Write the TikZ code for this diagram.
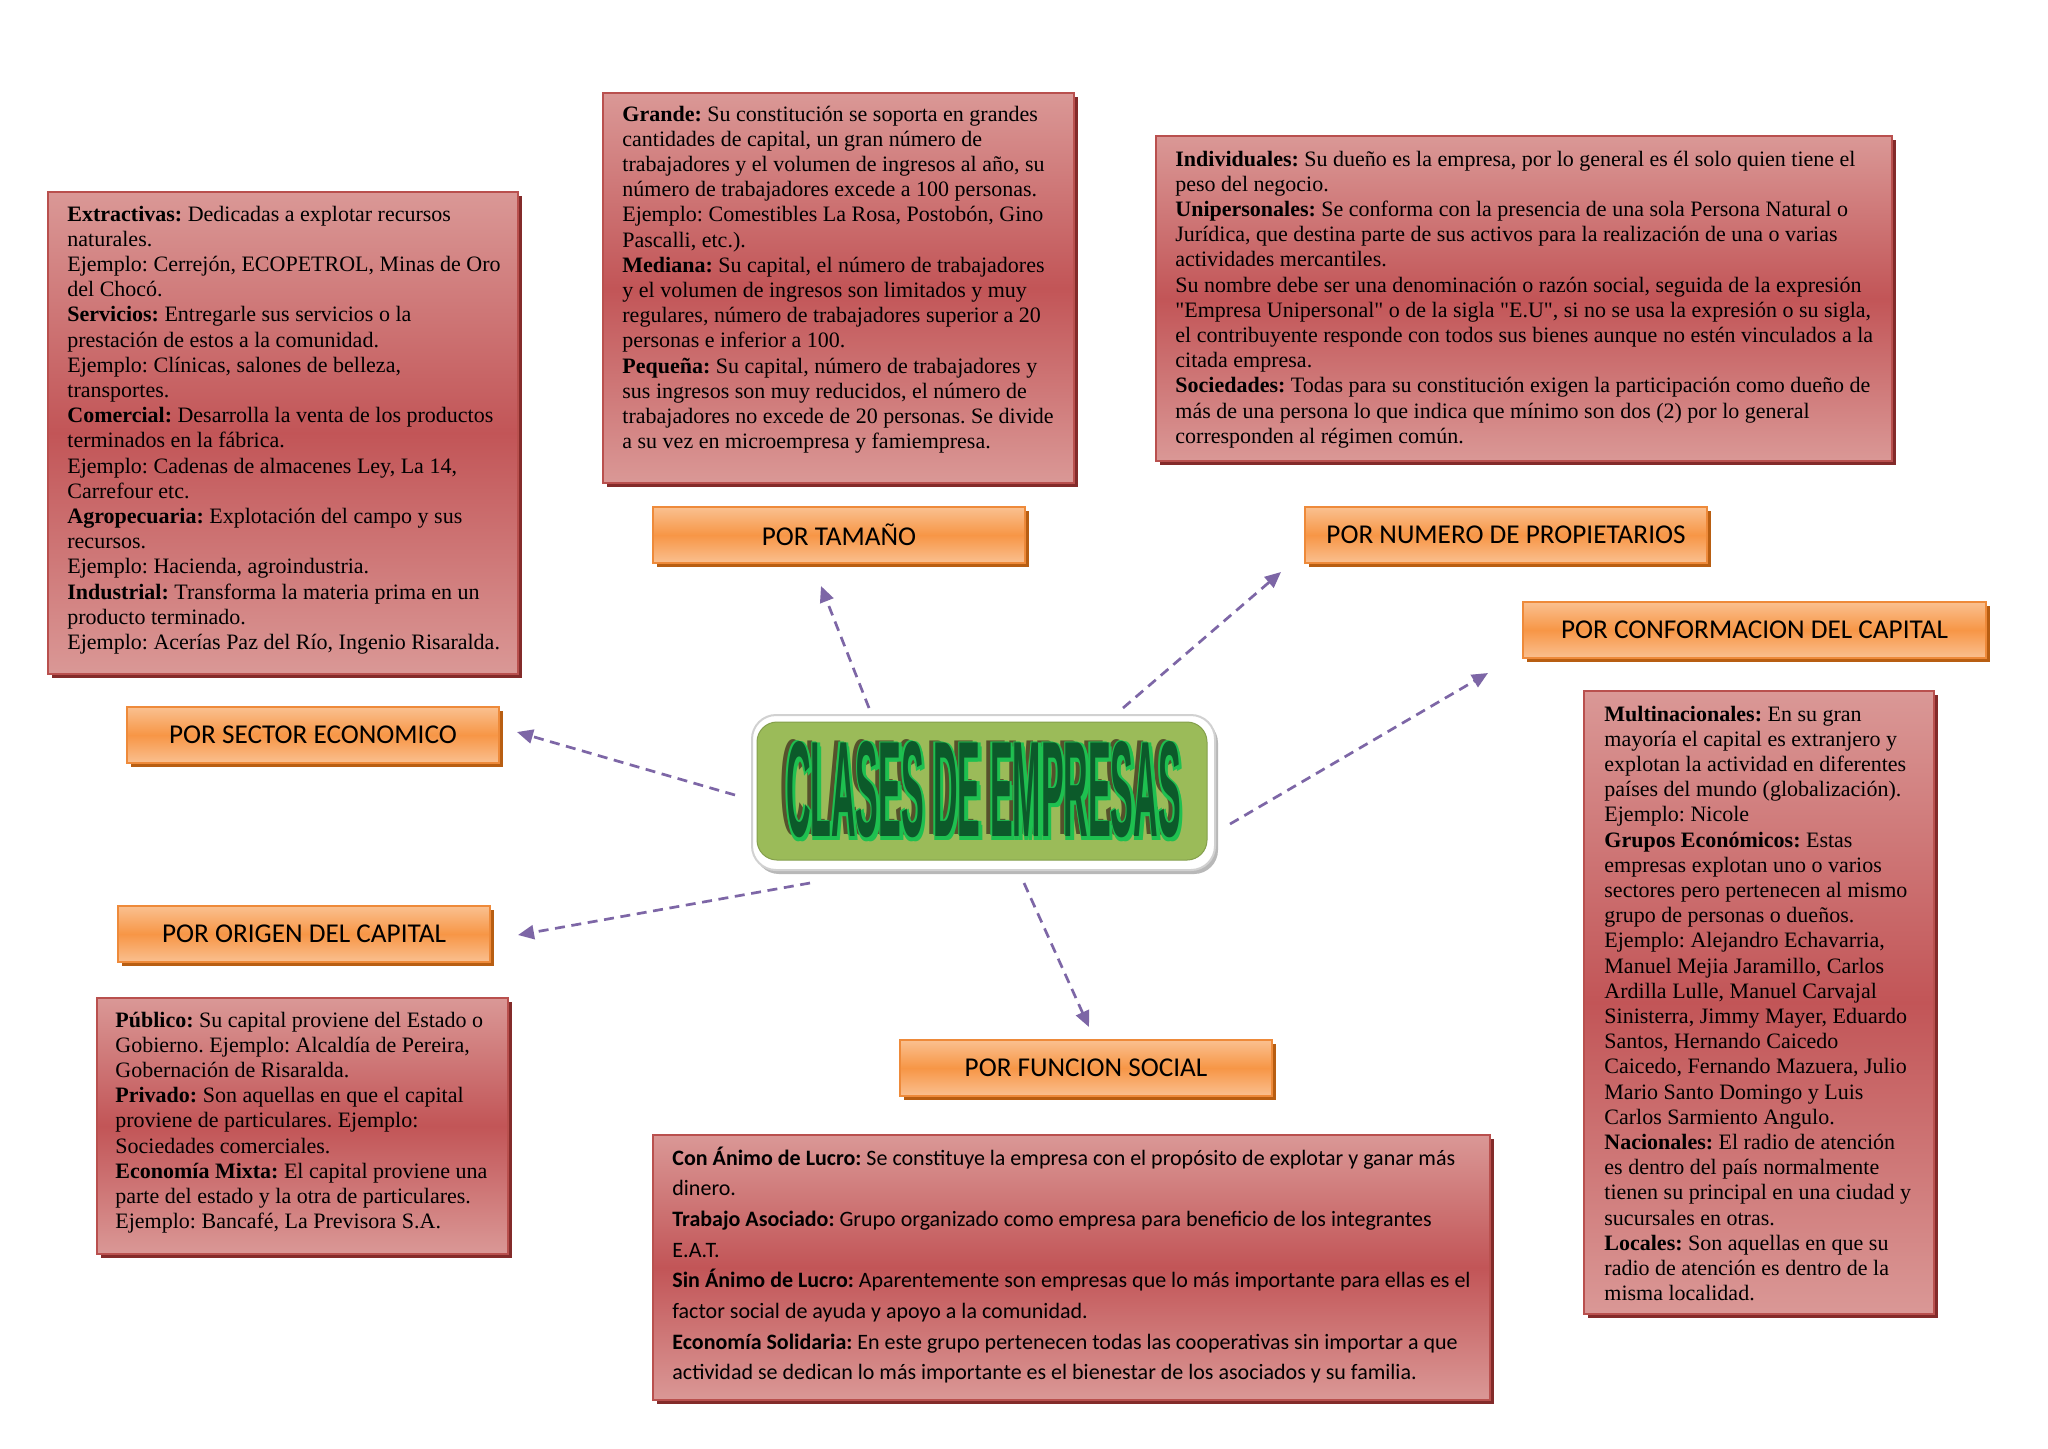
\documentclass[tikz,border=0pt]{standalone}
\usepackage{fontspec}
\setmainfont{Liberation Serif}[BoldFont={Liberation Serif Bold}, Ligatures=TeXOff]
\newfontfamily\calfont{Carlito}
\newfontfamily\wafont{Liberation Sans}
\usetikzlibrary{arrows.meta,shadows}
\definecolor{redlight}{HTML}{DA9896}
\definecolor{redmid}{HTML}{C25557}
\definecolor{redborder}{HTML}{B9504E}
\definecolor{redshadow}{HTML}{832B2A}
\definecolor{orlight}{HTML}{FAC090}
\definecolor{ormid}{HTML}{F79646}
\definecolor{orborder}{HTML}{EE8A3A}
\definecolor{orshadow}{HTML}{B85E12}
\definecolor{arrowc}{HTML}{7D66A6}
\definecolor{greenbox}{HTML}{9BBB59}
\definecolor{wagreen}{HTML}{0C5A2A}
\definecolor{wabright}{HTML}{1EC050}
\definecolor{waolive}{HTML}{56512C}
\frenchspacing
\newcommand\blk[2]{\vtop{\frenchspacing\baselineskip=#1\relax\lineskiplimit=-20pt\lineskip=0pt\halign{##\hfil\cr#2\crcr}}}
\newcommand\watitle{\scalebox{1}[4]{CLASES DE EMPRESAS}}
\newcommand\walayer[3]{\rlap{\kern#1\raisebox{#2}{\color{#3}\watitle}}}
\newcommand\wastack{\leavevmode
  \walayer{-2.75pt}{1.25pt}{waolive}%
  \walayer{1.75pt}{-1.75pt}{wabright}%
  \walayer{1.25pt}{0.25pt}{wabright}%
  \walayer{-0.25pt}{-1.75pt}{wabright}%
  \walayer{-0.75pt}{0.75pt}{wabright}%
  {\color{wagreen}\watitle}}
\tikzset{
  redbox/.style={draw=redborder, line width=0.6pt, top color=redlight, bottom color=redlight, middle color=redmid, inner sep=0pt,
    general shadow={fill=redshadow, shadow xshift=2.2pt, shadow yshift=-2.2pt}},
  orbox/.style={draw=orborder, line width=0.6pt, top color=orlight, bottom color=orlight, middle color=ormid, inner sep=0pt,
    minimum width=186pt, minimum height=28pt, font=\calfont\fontsize{13.6}{16}\selectfont,
    general shadow={fill=orshadow, shadow xshift=2.2pt, shadow yshift=-2.2pt}},
  tnode/.style={anchor=base west, inner sep=0pt, font=\fontsize{11}{12.6}\selectfont},
  conn/.style={draw=arrowc, line width=1.35pt, dash pattern=on 5pt off 3.3pt, -{Triangle[length=8pt,width=7pt]}},
  watext/.style={inner sep=0pt, font=\wafont\bfseries\fontsize{17}{17}\selectfont}
}
\begin{document}
\begin{tikzpicture}[x=0.5pt,y=-0.5pt]
\useasboundingbox[fill=white] (0,0) rectangle (2048,1448);

% ---------- red boxes ----------
\node[redbox, minimum width=235pt, minimum height=241pt] (bsec) at (283,433) {};
\node[redbox, minimum width=235.5pt, minimum height=195pt] (btam) at (838.5,288) {};
\node[redbox, minimum width=368pt, minimum height=162.5pt] (bprop) at (1524,298.5) {};
\node[redbox, minimum width=175pt, minimum height=311.5pt] (bconf) at (1759,1002.5) {};
\node[redbox, minimum width=205.5pt, minimum height=128pt] (borig) at (302.5,1126) {};
\node[redbox, minimum width=418.5pt, minimum height=132.5pt] (bfunc) at (1071.5,1267.5) {};

% ---------- texts ----------
\node[tnode] (tsec) at (67,221) {\blk{12.6pt}{%
\textbf{Extractivas:} Dedicadas a explotar recursos\cr
naturales.\cr
Ejemplo: Cerrejón, ECOPETROL, Minas de Oro\cr
del Chocó.\cr
\textbf{Servicios:} Entregarle sus servicios o la\cr
prestación de estos a la comunidad.\cr
Ejemplo: Clínicas, salones de belleza,\cr
transportes.\cr
\textbf{Comercial:} Desarrolla la venta de los productos\cr
terminados en la fábrica.\cr
Ejemplo: Cadenas de almacenes Ley, La 14,\cr
Carrefour etc.\cr
\textbf{Agropecuaria:} Explotación del campo y sus\cr
recursos.\cr
Ejemplo: Hacienda, agroindustria.\cr
\textbf{Industrial:} Transforma la materia prima en un\cr
producto terminado.\cr
Ejemplo: Acerías Paz del Río, Ingenio Risaralda.}};

\node[tnode] (ttam) at (622,121) {\blk{12.6pt}{%
\textbf{Grande:} Su constitución se soporta en grandes\cr
cantidades de capital, un gran número de\cr
trabajadores y el volumen de ingresos al año, su\cr
número de trabajadores excede a 100 personas.\cr
Ejemplo: Comestibles La Rosa, Postobón, Gino\cr
Pascalli, etc.).\cr
\textbf{Mediana:} Su capital, el número de trabajadores\cr
y el volumen de ingresos son limitados y muy\cr
regulares, número de trabajadores superior a 20\cr
personas e inferior a 100.\cr
\textbf{Pequeña:} Su capital, número de trabajadores y\cr
sus ingresos son muy reducidos, el número de\cr
trabajadores no excede de 20 personas. Se divide\cr
a su vez en microempresa y famiempresa.}};

\node[tnode] (tprop) at (1175,166) {\blk{12.6pt}{%
\textbf{Individuales:} Su dueño es la empresa, por lo general es él solo quien tiene el\cr
peso del negocio.\cr
\textbf{Unipersonales:} Se conforma con la presencia de una sola Persona Natural o\cr
Jurídica, que destina parte de sus activos para la realización de una o varias\cr
actividades mercantiles.\cr
Su nombre debe ser una denominación o razón social, seguida de la expresión\cr
"Empresa Unipersonal" o de la sigla "E.U", si no se usa la expresión o su sigla,\cr
el contribuyente responde con todos sus bienes aunque no estén vinculados a la\cr
citada empresa.\cr
\textbf{Sociedades:} Todas para su constitución exigen la participación como dueño de\cr
más de una persona lo que indica que mínimo son dos (2) por lo general\cr
corresponden al régimen común.}};

\node[tnode] (tconf) at (1604,721) {\blk{12.6pt}{%
\textbf{Multinacionales:} En su gran\cr
mayoría el capital es extranjero y\cr
explotan la actividad en diferentes\cr
países del mundo (globalización).\cr
Ejemplo: Nicole\cr
\textbf{Grupos Económicos:} Estas\cr
empresas explotan uno o varios\cr
sectores pero pertenecen al mismo\cr
grupo de personas o dueños.\cr
Ejemplo: Alejandro Echavarria,\cr
Manuel Mejia Jaramillo, Carlos\cr
Ardilla Lulle, Manuel Carvajal\cr
Sinisterra, Jimmy Mayer, Eduardo\cr
Santos, Hernando Caicedo\cr
Caicedo, Fernando Mazuera, Julio\cr
Mario Santo Domingo y Luis\cr
Carlos Sarmiento Angulo.\cr
\textbf{Nacionales:} El radio de atención\cr
es dentro del país normalmente\cr
tienen su principal en una ciudad y\cr
sucursales en otras.\cr
\textbf{Locales:} Son aquellas en que su\cr
radio de atención es dentro de la\cr
misma localidad.}};

\node[tnode] (torig) at (115,1027) {\blk{12.6pt}{%
\textbf{Público:} Su capital proviene del Estado o\cr
Gobierno. Ejemplo: Alcaldía de Pereira,\cr
Gobernación de Risaralda.\cr
\textbf{Privado:} Son aquellas en que el capital\cr
proviene de particulares. Ejemplo:\cr
Sociedades comerciales.\cr
\textbf{Economía Mixta:} El capital proviene una\cr
parte del estado y la otra de particulares.\cr
Ejemplo: Bancafé, La Previsora S.A.}};

\node[tnode, font=\calfont\fontsize{11}{15.35}\selectfont] (tfunc) at (672,1165) {\blk{15.35pt}{%
\textbf{Con Ánimo de Lucro:} Se constituye la empresa con el propósito de explotar y ganar más\cr
dinero.\cr
\textbf{Trabajo Asociado:} Grupo organizado como empresa para beneficio de los integrantes\cr
E.A.T.\cr
\textbf{Sin Ánimo de Lucro:} Aparentemente son empresas que lo más importante para ellas es el\cr
factor social de ayuda y apoyo a la comunidad.\cr
\textbf{Economía Solidaria:} En este grupo pertenecen todas las cooperativas sin importar a que\cr
actividad se dedican lo más importante es el bienestar de los asociados y su familia.}};

% ---------- orange boxes ----------
\node[orbox] (otam) at (839,535) {POR TAMAÑO};
\node[orbox, minimum width=201pt] (oprop) at (1506,535) {POR NUMERO DE PROPIETARIOS};
\node[orbox, minimum width=231.5pt] (oconf) at (1754.5,630) {POR CONFORMACION DEL CAPITAL};
\node[orbox] (osec) at (313,735) {POR SECTOR ECONOMICO};
\node[orbox] (oorig) at (304,934) {POR ORIGEN DEL CAPITAL};
\node[orbox] (ofunc) at (1086,1068) {POR FUNCION SOCIAL};

% ---------- central title ----------
\node[draw=black!18, fill=white, line width=1pt, rounded corners=12pt, minimum width=231.5pt, minimum height=77.5pt,
  general shadow={fill=black!28, shadow xshift=1.5pt, shadow yshift=-2pt}] (rim) at (983.5,792.5) {};
\node[fill=greenbox, draw=greenbox!85!black, line width=0.5pt, rounded corners=10pt, minimum width=225pt, minimum height=69pt] (center) at (982,791) {};
\node[watext] (title) at (983.5,790.5) {\wastack};

% ---------- connectors ----------
\coordinate (s1) at (869,708);  \coordinate (e1) at (821,586);
\coordinate (s2) at (1123,708); \coordinate (e2) at (1281,572);
\coordinate (s3) at (1230,824); \coordinate (e3) at (1488,673);
\coordinate (s4) at (735,795);  \coordinate (e4) at (517,732);
\coordinate (s5) at (810,883);  \coordinate (e5) at (518,935);
\coordinate (s6) at (1024,883); \coordinate (e6) at (1089,1027);
\draw[conn] (s1) -- (e1);
\draw[conn] (s2) -- (e2);
\draw[conn] (s3) -- (e3);
\draw[conn] (s4) -- (e4);
\draw[conn] (s5) -- (e5);
\draw[conn] (s6) -- (e6);
\end{tikzpicture}
\end{document}
